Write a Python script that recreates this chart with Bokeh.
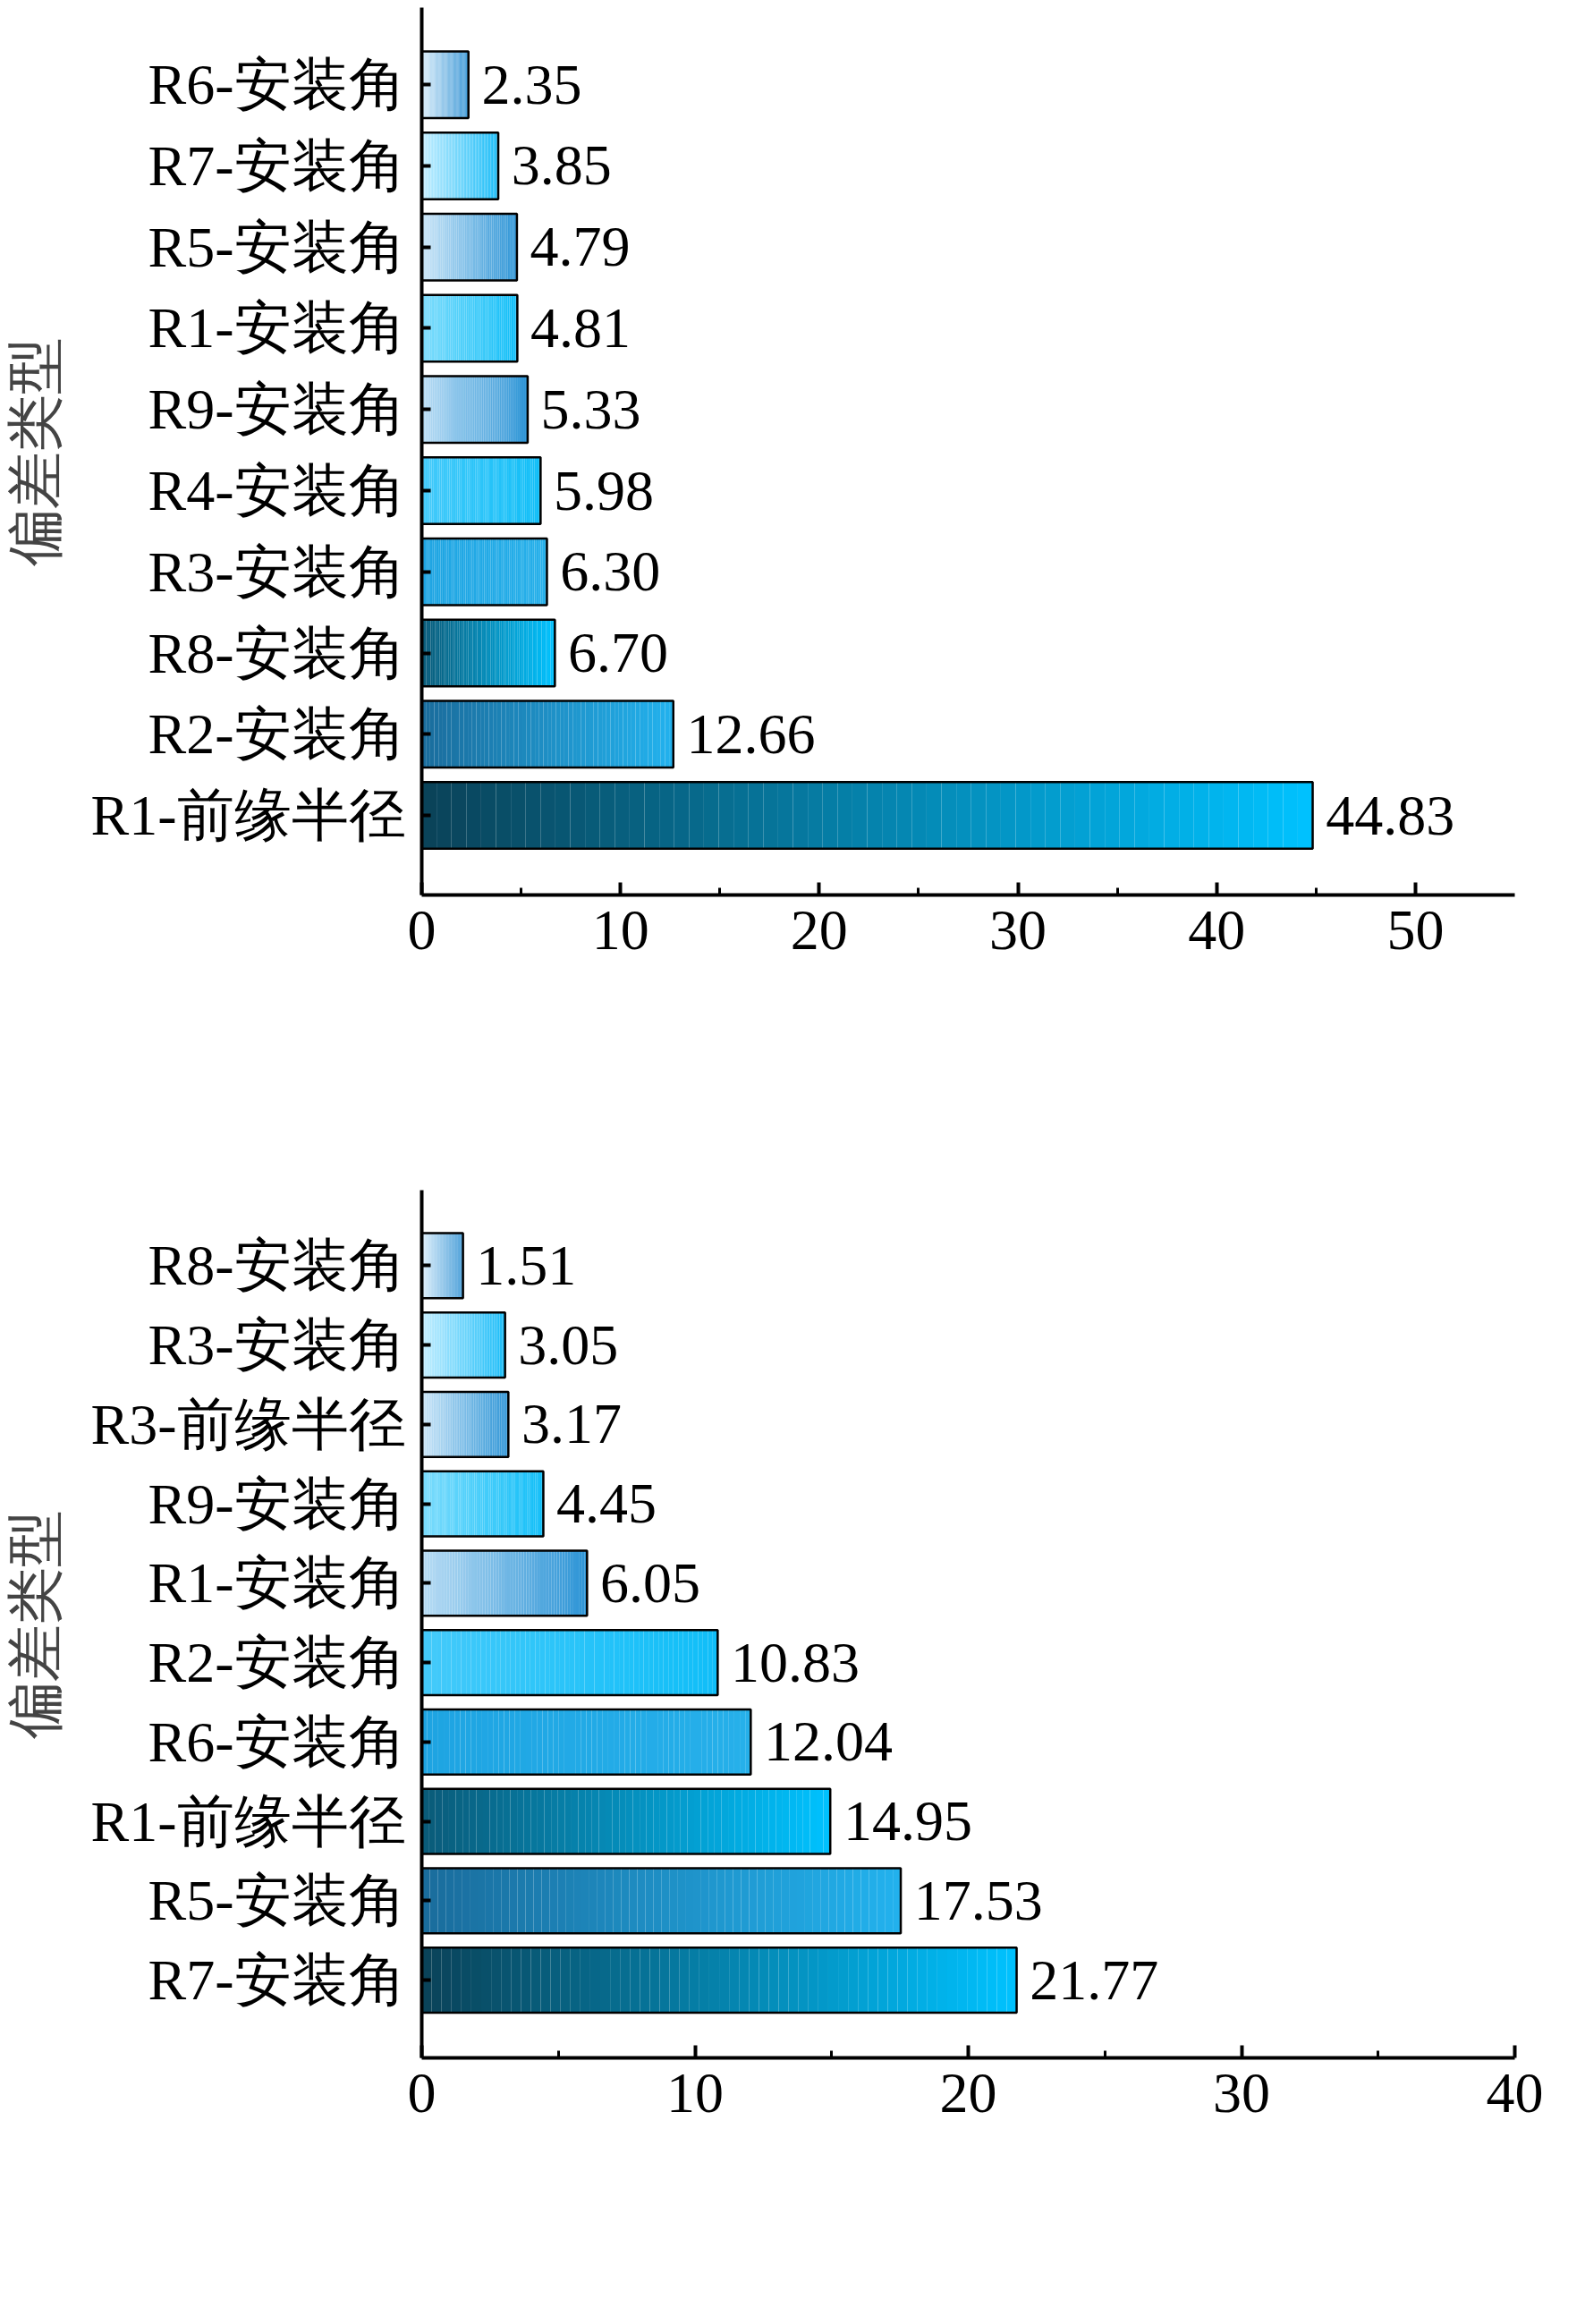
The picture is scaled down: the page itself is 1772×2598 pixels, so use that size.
from bokeh.plotting import figure
from bokeh.layouts import column
from bokeh.models import Range1d, FixedTicker, Label, CustomJSTickFormatter
from bokeh.embed import file_html
from bokeh.resources import INLINE

cats_a = ["R1-前缘半径", "R2-安装角", "R8-安装角", "R3-安装角", "R4-安装角",
          "R9-安装角", "R1-安装角", "R5-安装角", "R7-安装角", "R6-安装角"]
vals_a = [44.83, 12.66, 6.70, 6.30, 5.98, 5.33, 4.81, 4.79, 3.85, 2.35]
cats_b = ["R7-安装角", "R5-安装角", "R1-前缘半径", "R6-安装角", "R2-安装角",
          "R1-安装角", "R9-安装角", "R3-前缘半径", "R3-安装角", "R8-安装角"]
vals_b = [21.77, 17.53, 14.95, 12.04, 10.83, 6.05, 4.45, 3.17, 3.05, 1.51]
xticks_a = [0, 10, 20, 30, 40, 50]
xticks_b = [0, 10, 20, 30, 40]

# gradient (left colour, right colour) by rank from bottom
grads = [("#0a4258", "#00c2ff"), ("#1a6c9c", "#22b2ee"), ("#0a5a78", "#00c2ff"),
         ("#1ea4e2", "#26b0ea"), ("#44cafa", "#10bef8"), ("#b8dcf4", "#2c94d6"),
         ("#7cdcfc", "#10bef8"), ("#cce6f8", "#2c94d6"), ("#c4eeff", "#18bcf8"),
         ("#d8ecfa", "#2a8ed2")]

SERIF = "Liberation Serif"
NSEG = 60


def hx(c):
    return [int(c[i:i + 2], 16) for i in (1, 3, 5)]


def mix(a, b, t):
    A, B = hx(a), hx(b)
    return "#%02x%02x%02x" % tuple(round(A[i] + (B[i] - A[i]) * t) for i in range(3))


def make(cats, vals, xmax, ticks, top_border, bottom_border, sy, cy, cap):
    p = figure(width=1756, height=1290, output_backend="svg", toolbar_location=None,
               x_range=Range1d(0, xmax), y_range=Range1d(-0.98, 9.95),
               min_border_left=459, min_border_right=63,
               min_border_top=top_border, min_border_bottom=bottom_border)
    p.outline_line_color = None
    p.grid.visible = False
    h = 0.82
    for i, v in enumerate(vals):
        c0, c1 = grads[i]
        l = [v * k / NSEG for k in range(NSEG)]
        r = [v * (k + 1) / NSEG for k in range(NSEG)]
        cols = [mix(c0, c1, (k + 0.5) / NSEG) for k in range(NSEG)]
        p.quad(left=l, right=r, bottom=[i - h / 2] * NSEG, top=[i + h / 2] * NSEG,
               fill_color=cols, line_color=None)
        p.quad(left=[0], right=[v], bottom=[i - h / 2], top=[i + h / 2],
               fill_color=None, line_color="black", line_width=2.5)
    p.text(x=[v + xmax * 0.012 for v in vals], y=list(range(len(vals))),
           text=["%.2f" % v for v in vals], text_font=SERIF, text_font_size="64px",
           text_baseline="middle", text_color="black")
    p.xaxis.ticker = FixedTicker(ticks=ticks, minor_ticks=[t + 5 for t in ticks if t + 5 < xmax])
    p.yaxis.ticker = FixedTicker(ticks=list(range(10)))
    p.yaxis.formatter = CustomJSTickFormatter(args=dict(c=cats), code="return c[Math.round(tick)];")
    for ax in (p.xaxis, p.yaxis):
        ax.axis_line_width = 4
        ax.major_tick_line_width = 4
        ax.minor_tick_line_width = 3
        ax.major_label_text_font = SERIF
        ax.major_label_text_font_size = "64px"
        ax.major_label_text_color = "black"
        ax.axis_line_color = "black"
    p.xaxis.major_tick_in = 14
    p.xaxis.major_tick_out = 0
    p.xaxis.minor_tick_in = 8
    p.xaxis.minor_tick_out = 0
    p.xaxis.major_label_standoff = 18
    p.yaxis.major_tick_in = 10
    p.yaxis.major_tick_out = 0
    p.yaxis.minor_tick_line_color = None
    p.yaxis.major_label_standoff = 18
    p.yaxis.axis_label = "偏差类型"
    p.yaxis.axis_label_text_font = SERIF
    p.yaxis.axis_label_text_font_style = "normal"
    p.yaxis.axis_label_text_font_size = "64px"
    p.yaxis.axis_label_standoff = 24
    cx = (1756 - 459 - 63) * 0.5
    p.add_layout(Label(x=cx - 58, y=sy, x_units="screen", y_units="screen", text="S",
                       text_font=SERIF, text_font_style="italic", text_font_size="64px"))
    p.add_layout(Label(x=cx - 22, y=sy - 14, x_units="screen", y_units="screen", text="i",
                       text_font=SERIF, text_font_size="40px"))
    p.add_layout(Label(x=cx - 10, y=sy, x_units="screen", y_units="screen", text="/%",
                       text_font=SERIF, text_font_size="64px"))
    p.add_layout(Label(x=cx, y=cy, x_units="screen", y_units="screen", text=cap,
                       text_font=SERIF, text_font_size="64px", text_align="center"))
    return p


pa = make(cats_a, vals_a, 55, xticks_a, 8, 290, -150, -240, "(a) 工作点")
pb = make(cats_b, vals_b, 40, xticks_b, 40, 280, -155, -245, "(b) 近喘点")
layout = column(pa, pb, spacing=0)
open("out.html", "w").write(file_html(layout, INLINE))
